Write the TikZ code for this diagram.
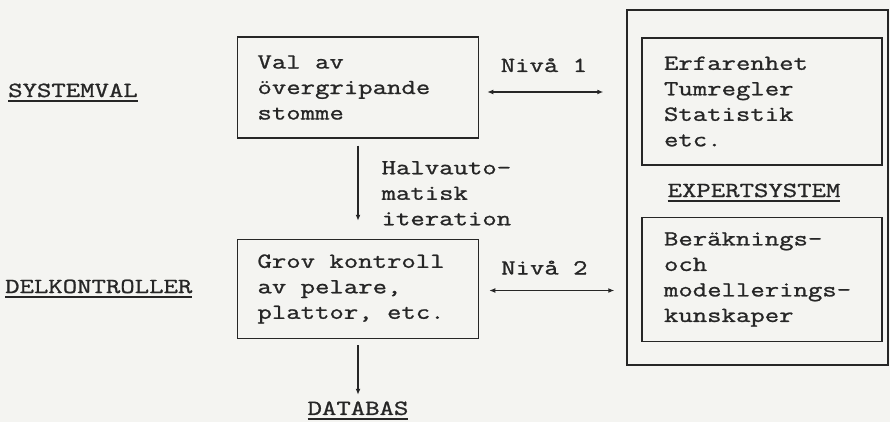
\documentclass[tikz,border=0pt]{standalone}
\usepackage{fontspec}
\setmonofont[FakeStretch=1.3, FakeBold=1.1]{Latin Modern Mono}
\usetikzlibrary{arrows.meta,positioning}
\definecolor{ink}{gray}{0.15}
\definecolor{paper}{rgb}{0.955,0.955,0.945}
\newcommand{\understruk}[1]{\setbox0\hbox{#1}\rlap{\rule[-5pt]{\wd0}{1.6pt}}\box0}

\begin{document}
\begin{tikzpicture}[
		x=1pt, y=-1pt,
		every node/.style={font=\ttfamily\fontsize{21.5}{25.5}\selectfont, text=ink},
		box/.style={draw=ink, line width=1.5pt, align=flush left, inner xsep=20pt, text width=201pt, minimum height=101pt},
		inbox/.style={box, inner xsep=22pt, text width=196pt},
		frame/.style={draw=ink, line width=1.5pt, minimum width=261pt, minimum height=355pt},
		arrow/.style={-{Latex[length=6pt,width=5pt]}, line width=1.2pt, draw=ink},
		dbl/.style={arrow, {Latex[length=6pt,width=5pt]}-{Latex[length=6pt,width=5pt]}},
		heading/.style={anchor=base west, inner sep=0pt},
		lbl/.style={inner sep=0pt}
	]
		\useasboundingbox[fill=paper] (0,0) rectangle (890,422);

		\node[box]
			(valbox) at (358,87.5)
			{Val av\\övergripande\\stomme};
		\node[box, below=100pt of valbox, minimum height=99pt]
			(grovbox)
			{Grov kontroll\\av pelare,\\plattor, etc.};
		\node[lbl, below=62pt of grovbox]
			(databas)
			{\understruk{DATABAS}};

		\node[heading] (systemval) at (8,97) {\understruk{SYSTEMVAL}};
		\node[heading] (delkontroller) at (5,293) {\understruk{DELKONTROLLER}};

		\node[frame] (expert) at (757.5,187.5) {};
		\node[inbox, minimum height=127pt]
			(erfbox) at (762,101.5)
			{Erfarenhet\\Tumregler\\Statistik\\etc.};
		\node[inbox, below=51pt of erfbox, minimum height=124pt]
			(berbox)
			{Beräknings-\\och\\modellerings-\\kunskaper};
		\node[lbl, anchor=base] (exptitle) at (754,197) {\understruk{EXPERTSYSTEM}};

		\draw[dbl, shorten <=8pt, shorten >=23pt] ([yshift=-4.5pt]valbox.east) -- ([yshift=-4.5pt]valbox.east -| expert.west)
			node[lbl, pos=0.44, anchor=base, yshift=20pt] {Nivå 1};
		\draw[dbl, shorten <=10pt, shorten >=12pt] ([yshift=-1.5pt]grovbox.east) -- ([yshift=-1.5pt]grovbox.east -| expert.west)
			node[lbl, pos=0.443, anchor=base, yshift=16pt] {Nivå 2};
		\draw[arrow, shorten <=7pt, shorten >=18pt] (valbox) -- (grovbox)
			node[lbl, pos=0.545, anchor=west, xshift=23pt, align=left] {Halvauto-\\matisk\\iteration};
		\draw[arrow, shorten <=6pt, shorten >=6.5pt] (grovbox) -- (databas);
	\end{tikzpicture}
\end{document}
